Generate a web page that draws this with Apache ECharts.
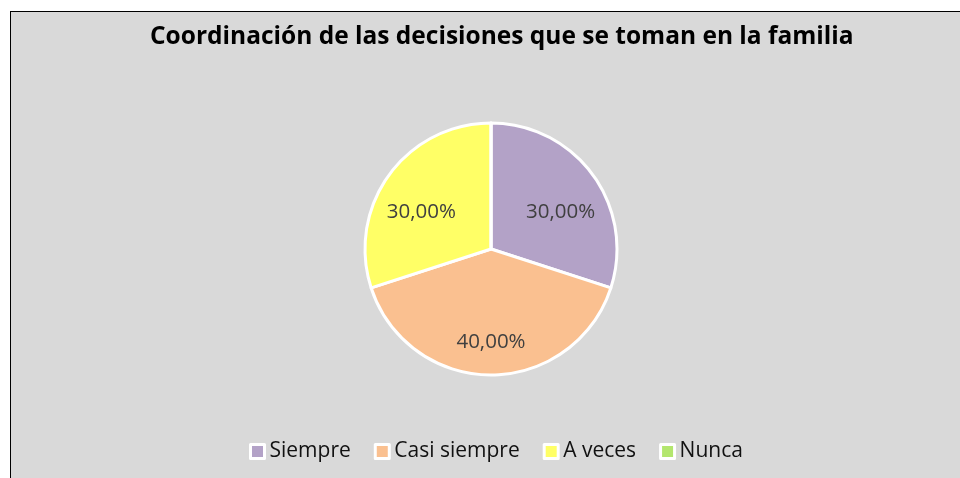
<!DOCTYPE html>
<html>
<head>
<meta charset="utf-8">
<script src="https://cdn.jsdelivr.net/npm/echarts@6/dist/echarts.min.js"></script>
<style>
  html, body { margin: 0; padding: 0; background: #fff; overflow: hidden; }
  #frame { position: absolute; left: 10px; top: 11px; width: 960px; height: 478px;
           border: 1px solid #000; background: #d9d9d9; }
  #chart { width: 960px; height: 478px; }
</style>
</head>
<body>
<div id="frame"><div id="chart"></div></div>
<script>
// chart data
const categories = ['Siempre', 'Casi siempre', 'A veces', 'Nunca'];
const shares = [30, 40, 30, 0];
const colors = ['#b3a2c7', '#fac090', '#ffff66', '#b3e66e'];
// small nudges so labels sit where the original put them
const labelNudge = [[0, 14], [0, 7], [0, 14], [0, 0]];

var chartDom = document.getElementById('chart');
var myChart = echarts.init(chartDom);

let pieData = categories.map((name, i) => ({ name: name, value: shares[i] }));

let fmtLabel = (p) => p.value > 0 ? p.value.toFixed(2).replace('.', ',') + '%' : '';

let option = {
    backgroundColor: 'transparent',
    color: colors,
    animation: false,
    title: {
        text: 'Coordinación de las decisiones que se toman en la familia',
        left: 134, top: 8,
        textStyle: { fontFamily: 'Open Sans', fontWeight: 'bold', fontSize: 24.5, color: '#000' }
    },
    legend: {
        data: categories,
        left: 233, top: 424,
        itemWidth: 14, itemHeight: 14, itemGap: 23,
        icon: 'rect',
        itemStyle: { borderColor: '#fff', borderWidth: 3 },
        textStyle: { fontFamily: 'Open Sans', fontSize: 21, color: '#111' }
    },
    series: [
        {
            type: 'pie',
            center: [480, 237],
            radius: [0, 126],
            startAngle: 90,
            clockwise: true,
            silent: true,
            itemStyle: { borderColor: '#fff', borderWidth: 3 },
            label: { show: false },
            labelLine: { show: false },
            data: pieData
        },
        {
            // label layer
            type: 'pie',
            center: [480, 237],
            radius: [40, 126],
            startAngle: 90,
            silent: true,
            legendHoverLink: false,
            itemStyle: { color: 'transparent', borderWidth: 0 },
            label: {
                show: true, position: 'inside', formatter: fmtLabel,
                fontFamily: 'Open Sans', fontSize: 20.5, color: '#404040'
            },
            labelLine: { show: false },
            data: pieData.map((d, i) => ({ name: d.name + ' ', value: d.value, label: { offset: labelNudge[i] } }))
        }
    ]
};
myChart.setOption(option);
</script>
</body>
</html>
